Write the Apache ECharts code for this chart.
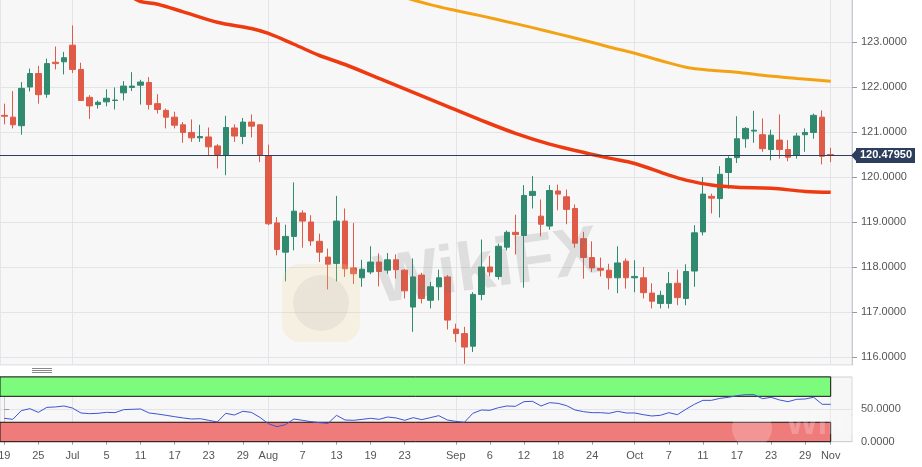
<!DOCTYPE html>
<html>
<head>
<meta charset="utf-8">
<script src="https://cdn.jsdelivr.net/npm/echarts@6/dist/echarts.min.js"></script>
<style>html,body{margin:0;padding:0;background:#fff}#c{width:922px;height:467px}</style>
</head>
<body>
<div id="c"></div>
<script>
// Trading days (2019), one candle each
const dates = [
 '06-19','06-20','06-21','06-24','06-25','06-26','06-27','06-28',
 '07-01','07-02','07-03','07-04','07-05','07-08','07-09','07-10','07-11','07-12','07-15','07-16','07-17','07-18','07-19','07-22','07-23','07-24','07-25','07-26','07-29','07-30','07-31',
 '08-01','08-02','08-05','08-06','08-07','08-08','08-09','08-12','08-13','08-14','08-15','08-16','08-19','08-20','08-21','08-22','08-23','08-26','08-27','08-28','08-29','08-30',
 '09-02','09-03','09-04','09-05','09-06','09-09','09-10','09-11','09-12','09-13','09-16','09-17','09-18','09-19','09-20','09-23','09-24','09-25','09-26','09-27','09-30',
 '10-01','10-02','10-03','10-04','10-07','10-08','10-09','10-10','10-11','10-14','10-15','10-16','10-17','10-18','10-21','10-22','10-23','10-24','10-25','10-28','10-29','10-30','10-31',
 '11-01'
];
const emptySlots = ['11-04','11-05'];

// [open, close, low, high]
const ohlc = [
 [121.37,121.35,121.17,121.63],[121.33,121.16,121.08,121.91],[121.14,121.97,120.94,122.11],[122.00,122.30,121.90,122.41],
 [122.30,121.83,121.63,122.47],[121.84,122.52,121.76,122.63],[122.55,122.52,122.39,122.90],[122.56,122.65,122.28,122.78],
 [122.93,122.39,122.31,123.37],[122.39,121.70,121.69,122.54],[121.77,121.58,121.29,121.82],[121.61,121.66,121.52,121.70],
 [121.67,121.75,121.57,121.95],[121.70,121.71,121.50,121.99],[121.87,122.02,121.70,122.13],[121.99,122.02,121.91,122.33],
 [122.04,122.11,121.61,122.16],[122.10,121.61,121.50,122.22],[121.63,121.50,121.41,121.84],[121.48,121.33,121.08,121.52],
 [121.33,121.15,121.08,121.45],[121.16,120.99,120.76,121.22],[120.99,120.87,120.78,121.28],[120.87,120.90,120.78,121.16],
 [120.89,120.67,120.48,121.10],[120.69,120.50,120.19,120.73],[120.48,121.10,120.04,121.36],[121.09,120.91,120.78,121.17],
 [120.90,121.22,120.73,121.31],[121.22,121.13,120.88,121.39],[121.16,120.48,120.33,121.17],
 [120.47,118.96,118.93,120.72],[118.98,118.39,118.26,119.11],[118.33,118.68,117.68,118.94],[118.68,119.24,118.37,119.88],
 [119.20,119.02,118.43,119.26],[119.00,118.58,118.47,119.15],[118.57,118.33,118.11,118.74],[118.22,118.06,117.50,118.41],
 [118.08,119.02,117.68,119.58],[119.02,117.96,117.78,119.30],[117.98,117.85,117.62,118.98],[117.76,117.95,117.56,118.16],
 [117.89,118.11,117.84,118.46],[118.11,117.90,117.57,118.30],[117.93,118.16,117.85,118.31],[118.16,117.94,117.74,118.28],
 [117.93,117.47,117.30,117.96],[117.11,117.78,116.56,118.19],[117.82,117.30,117.19,117.87],[117.26,117.56,117.08,117.67],
 [117.56,117.76,117.26,117.94],[117.78,116.82,116.61,117.82],
 [116.62,116.52,116.33,116.74],[116.52,116.22,115.85,116.67],[116.24,117.39,116.11,117.44],[117.39,118.00,117.26,118.61],
 [118.00,117.89,117.79,118.25],[117.79,118.46,117.72,118.52],[118.44,118.77,118.37,118.81],[118.77,118.72,118.28,119.16],
 [118.70,119.59,117.54,119.82],[119.59,119.68,119.30,120.02],[119.13,118.95,118.68,119.50],[118.91,119.70,118.83,119.82],
 [119.69,119.62,119.26,119.83],[119.56,119.28,118.95,119.72],[119.30,118.53,118.43,119.39],[118.63,118.21,117.74,118.78],
 [118.21,117.98,117.89,118.57],[117.97,117.93,117.79,118.21],[117.93,117.76,117.50,118.07],[117.76,118.09,117.42,118.46],
 [118.13,117.76,117.52,118.19],
 [117.76,117.79,117.44,118.15],[117.76,117.43,117.30,118.00],[117.42,117.24,117.08,117.64],[117.19,117.37,117.08,117.47],
 [117.19,117.63,117.08,117.89],[117.64,117.32,117.15,117.94],[117.30,117.90,117.15,118.06],[117.91,118.76,117.56,118.93],
 [118.78,119.62,118.70,120.00],[119.57,119.53,119.19,119.63],[119.52,120.06,119.10,120.24],[120.10,120.41,119.74,120.46],
 [120.43,120.85,120.31,121.35],[120.85,121.08,120.65,121.11],[121.02,121.04,120.76,121.47],[120.94,120.63,120.56,121.30],
 [120.61,120.93,120.37,121.05],[120.82,120.61,120.41,121.39],[120.61,120.44,120.35,120.82],[120.48,120.91,120.41,120.98],
 [120.94,120.99,120.56,121.08],[120.99,121.37,120.85,121.41],[121.33,120.46,120.28,121.48],
 [120.50,120.48,120.33,120.65]
];

// Moving averages: [date, value]
const maRed = [
 ['07-10',124.00],['07-11',123.90],['07-15',123.84],['07-18',123.67],['07-24',123.44],['07-30',123.30],
 ['08-01',123.19],['08-06',122.95],['08-09',122.70],['08-14',122.50],['08-20',122.19],['08-26',121.88],
 ['08-30',121.57],['09-05',121.26],['09-11',120.97],['09-17',120.73],['09-20',120.59],['09-26',120.42],
 ['10-01',120.30],['10-07',120.04],['10-09',119.93],['10-14',119.82],['10-17',119.77],['10-23',119.75],
 ['10-29',119.68],['11-01',119.66]
];
const maOrange = [
 ['08-23',123.99],['08-28',123.83],['09-02',123.70],['09-05',123.58],['09-10',123.45],['09-13',123.32],
 ['09-18',123.18],['09-23',123.04],['09-26',122.89],['10-01',122.75],['10-04',122.59],['10-09',122.44],
 ['10-14',122.37],['10-17',122.33],['10-22',122.26],['10-28',122.19],['11-01',122.13]
];

// RSI values, one per candle
const rsi = [
 36.1,34.5,47.9,51.0,45.3,53.0,53.6,55.1,52.0,44.3,43.3,43.8,45.3,44.8,49.4,50.0,50.5,44.3,42.7,40.7,
 38.6,36.6,35.0,35.5,33.0,30.4,43.8,41.2,46.9,45.3,37.6,27.8,23.2,26.3,35.0,33.0,30.9,29.4,28.3,40.7,
 33.5,33.0,34.5,36.1,34.5,38.1,36.6,33.0,37.1,34.0,37.1,40.2,33.5,31.4,29.9,43.8,48.9,48.4,52.5,55.1,
 54.6,61.8,62.3,55.1,60.2,59.2,55.6,48.9,46.3,44.8,44.8,43.8,46.9,44.3,44.3,41.7,39.7,40.7,44.8,41.7,
 50.0,57.7,63.8,63.8,66.9,68.5,71.0,72.6,72.6,66.4,68.5,64.4,61.8,65.4,65.9,68.5,57.7,57.7
];
const rsiUpper = 70, rsiLower = 30;
const lastPrice = 120.4795;

// x tick labels
const tickLabels = [
 ['06-19','19'],['06-25','25'],['07-01','Jul'],['07-05','5'],['07-11','11'],['07-17','17'],['07-23','23'],['07-29','29'],
 ['08-01','Aug'],['08-07','7'],['08-13','13'],['08-19','19'],['08-23','23'],['09-02','Sep'],['09-06','6'],['09-12','12'],
 ['09-18','18'],['09-24','24'],['10-01','Oct'],['10-07','7'],['10-11','11'],['10-17','17'],['10-23','23'],['10-29','29'],['11-01','Nov']
];
const monthStarts = ['07-01','08-01','09-02','10-01','11-01'];

const labelMap = {};
tickLabels.forEach(function (t) { labelMap[t[0]] = t[1]; });
const cats = dates.concat(emptySlots);
const isLabel = function (i, v) { return labelMap[v] !== undefined; };
const isMonth = function (i, v) { return monthStarts.indexOf(v) >= 0; };

const GREEN = '#2f8a6f', RED = '#df5b48';
const FONT = 'Liberation Sans, Arial, Helvetica, sans-serif';
const gridLine = '#e3e3e8';

const chart = echarts.init(document.getElementById('c'));
const option = {
  animation: false,
  backgroundColor: '#ffffff',
  textStyle: { fontFamily: FONT },
  grid: [
    { left: 0, top: -3, width: 852, height: 368, outerBoundsMode: 'none', containLabel: false,
      show: true, backgroundColor: '#f7f7f7', borderColor: '#d6d6de', borderWidth: 1 },
    { left: 0, top: 376.9, width: 852, height: 64.8, outerBoundsMode: 'none', containLabel: false,
      show: true, backgroundColor: '#f7f7f7', borderColor: '#d6d6de', borderWidth: 1 }
  ],
  xAxis: [
    { type: 'category', gridIndex: 0, data: cats, boundaryGap: true,
      axisLine: { show: false }, axisTick: { show: false }, axisLabel: { show: false },
      splitLine: { show: true, interval: isMonth, alignWithLabel: true, lineStyle: { color: gridLine } } },
    { type: 'category', gridIndex: 1, data: cats, boundaryGap: true,
      axisLine: { show: true, lineStyle: { color: '#cfcfd6' } },
      axisTick: { show: true, alignWithLabel: true, interval: isLabel, length: 3, lineStyle: { color: '#999' } },
      axisLabel: { show: true, interval: isLabel, formatter: function (v) { return labelMap[v] || ''; },
                   color: '#555', fontSize: 11, margin: 9, fontFamily: FONT },
      splitLine: { show: true, interval: isMonth, alignWithLabel: true, lineStyle: { color: gridLine } } },
    // hidden slot axis for the RSI bands (same slot layout as the category axis)
    { type: 'value', gridIndex: 1, min: -0.5, max: cats.length - 0.5, show: false }
  ],
  yAxis: [
    { type: 'value', gridIndex: 0, position: 'right', min: 115.822, max: 124, minInterval: 1, maxInterval: 1,
      axisLine: { show: true, lineStyle: { color: '#c8c8d0' } },
      axisTick: { show: true, length: 5, lineStyle: { color: '#999' } },
      axisLabel: { show: true, margin: 9, color: '#555', fontSize: 11, fontFamily: FONT, showMinLabel: false,
                   formatter: function (v) { return v.toFixed(4); } },
      splitLine: { show: true, lineStyle: { color: gridLine } } },
    { type: 'value', gridIndex: 1, position: 'right', min: 0, max: 100, interval: 50,
      axisLine: { show: true, lineStyle: { color: '#c8c8d0' } },
      axisTick: { show: true, length: 5, lineStyle: { color: '#999' } },
      axisLabel: { show: true, margin: 9, color: '#555', fontSize: 11, fontFamily: FONT, showMaxLabel: false,
                   formatter: function (v) { return v.toFixed(4); } },
      splitLine: { show: true, lineStyle: { color: gridLine } } }
  ],
  series: [
    { type: 'candlestick', xAxisIndex: 0, yAxisIndex: 0, data: ohlc, barWidth: 6, z: 2,
      itemStyle: { color: GREEN, color0: RED, borderColor: GREEN, borderColor0: RED, borderWidth: 1 },
      markLine: { silent: true, symbol: ['none', 'none'], animation: false, z: 6,
        data: [{ yAxis: lastPrice }],
        lineStyle: { color: '#2c3f5e', width: 1, type: 'solid' },
        label: { show: true, position: 'end', distance: 4, formatter: lastPrice.toFixed(5),
                 color: '#fff', backgroundColor: '#2c3e5c', fontSize: 11, fontWeight: 'bold', fontFamily: FONT,
                 padding: [2, 3, 1, 4], lineHeight: 12 } } },
    { type: 'line', xAxisIndex: 0, yAxisIndex: 0, data: maRed, showSymbol: false, smooth: 0.35, z: 4,
      lineStyle: { color: '#ee3a10', width: 3.5 } },
    { type: 'line', xAxisIndex: 0, yAxisIndex: 0, data: maOrange, showSymbol: false, smooth: 0.35, z: 4,
      lineStyle: { color: '#f3a214', width: 3 } },
    { type: 'line', xAxisIndex: 2, yAxisIndex: 1, data: [[-0.5, null]], showSymbol: false, silent: true, z: 1,
      markArea: { silent: true, z: 1,
        data: [
          [{ xAxis: -0.5, yAxis: rsiUpper, itemStyle: { color: '#7cfb7c', borderColor: '#111', borderWidth: 1 } }, { xAxis: dates.length - 1, yAxis: 100 }],
          [{ xAxis: -0.5, yAxis: 0, itemStyle: { color: '#f07b7b', borderColor: '#111', borderWidth: 1 } }, { xAxis: dates.length - 1, yAxis: rsiLower }]
        ] } },
    { type: 'line', xAxisIndex: 1, yAxisIndex: 1, data: rsi, showSymbol: false, z: 4,
      lineStyle: { color: '#3e54d4', width: 1 } }
  ]
};
chart.setOption(option);

// price tag arrow + panel grip + watermarks
const py = chart.convertToPixel({ yAxisIndex: 0 }, lastPrice);
const gx = chart.convertToPixel({ xAxisIndex: 0 }, cats[cats.length - 1]) + 4.3;
chart.setOption({
  graphic: [
    { type: 'polygon', z: 100, shape: { points: [[gx - 1, py], [gx + 5, py - 6.5], [gx + 5, py + 6.5]] }, style: { fill: '#2c3e5c' } },
    { type: 'rect', z: 50, shape: { x: 0, y: 365.5, width: 852, height: 10.5 }, style: { fill: '#ffffff' } },
    { type: 'line', z: 60, shape: { x1: 32, y1: 368.5, x2: 52, y2: 368.5 }, style: { stroke: '#8a8a8a', lineWidth: 1 } },
    { type: 'line', z: 60, shape: { x1: 32, y1: 370.5, x2: 52, y2: 370.5 }, style: { stroke: '#8a8a8a', lineWidth: 1 } },
    { type: 'line', z: 60, shape: { x1: 32, y1: 372.5, x2: 52, y2: 372.5 }, style: { stroke: '#8a8a8a', lineWidth: 1 } },
    { type: 'text', z: 40, x: 380, y: 318, rotation: 0.14,
      style: { text: 'WikiFX', font: 'bold 68px Liberation Sans, Arial, sans-serif', fill: 'rgba(110,110,110,0.18)', textVerticalAlign: 'bottom' } },
    { type: 'rect', z: 40, shape: { x: 282, y: 264, width: 78, height: 78, r: 18 }, style: { fill: 'rgba(240,215,140,0.2)' } },
    { type: 'circle', z: 41, shape: { cx: 321, cy: 303, r: 28 }, style: { fill: 'rgba(150,150,150,0.12)' } },
    { type: 'circle', z: 60, shape: { cx: 752, cy: 428, r: 20 }, style: { fill: 'rgba(255,255,255,0.2)' } },
    { type: 'text', z: 60, x: 786, y: 442,
      style: { text: 'WikiFX', font: 'bold 34px Liberation Sans, Arial, sans-serif', fill: 'rgba(255,255,255,0.22)', textVerticalAlign: 'bottom' } }
  ]
});
</script>
</body>
</html>
